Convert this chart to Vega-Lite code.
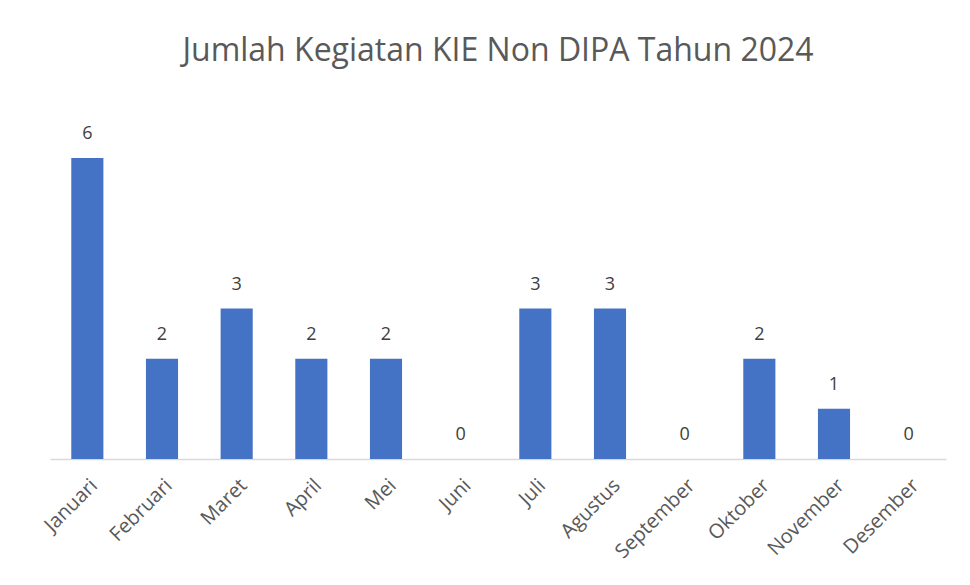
{
  "$schema": "https://vega.github.io/schema/vega-lite/v6.json",
  "autosize": "none",
  "width": 896,
  "height": 301,
  "padding": {"left": 50, "top": 158, "right": 24, "bottom": 126},
  "background": "white",
  "title": {
    "text": "Jumlah Kegiatan KIE Non DIPA Tahun 2024",
    "font": "Open Sans",
    "fontSize": 32,
    "fontWeight": "normal",
    "color": "#595959",
    "anchor": "middle",
    "offset": 57
  },
  "data": {
    "values": [
      {"bulan": "Januari", "jumlah": 6},
      {"bulan": "Februari", "jumlah": 2},
      {"bulan": "Maret", "jumlah": 3},
      {"bulan": "April", "jumlah": 2},
      {"bulan": "Mei", "jumlah": 2},
      {"bulan": "Juni", "jumlah": 0},
      {"bulan": "Juli", "jumlah": 3},
      {"bulan": "Agustus", "jumlah": 3},
      {"bulan": "September", "jumlah": 0},
      {"bulan": "Oktober", "jumlah": 2},
      {"bulan": "November", "jumlah": 1},
      {"bulan": "Desember", "jumlah": 0}
    ]
  },
  "encoding": {
    "x": {
      "field": "bulan",
      "type": "nominal",
      "sort": null,
      "scale": {"paddingInner": 0.57, "paddingOuter": 0.285},
      "axis": {
        "title": null,
        "labelAngle": -45,
        "labelFont": "Open Sans",
        "labelFontSize": 20,
        "labelColor": "#595959",
        "ticks": false,
        "labelPadding": 16,
        "domainColor": "#d9d9d9",
        "domainWidth": 1.5
      }
    },
    "y": {
      "field": "jumlah",
      "type": "quantitative",
      "scale": {"domain": [0, 6]},
      "axis": null
    }
  },
  "layer": [
    {"mark": {"type": "bar", "color": "#4472C4"}},
    {
      "mark": {
        "type": "text",
        "dy": -15,
        "baseline": "bottom",
        "font": "Open Sans",
        "fontSize": 18,
        "color": "#404040"
      },
      "encoding": {"text": {"field": "jumlah", "type": "quantitative"}}
    }
  ],
  "config": {"view": {"stroke": null}}
}
